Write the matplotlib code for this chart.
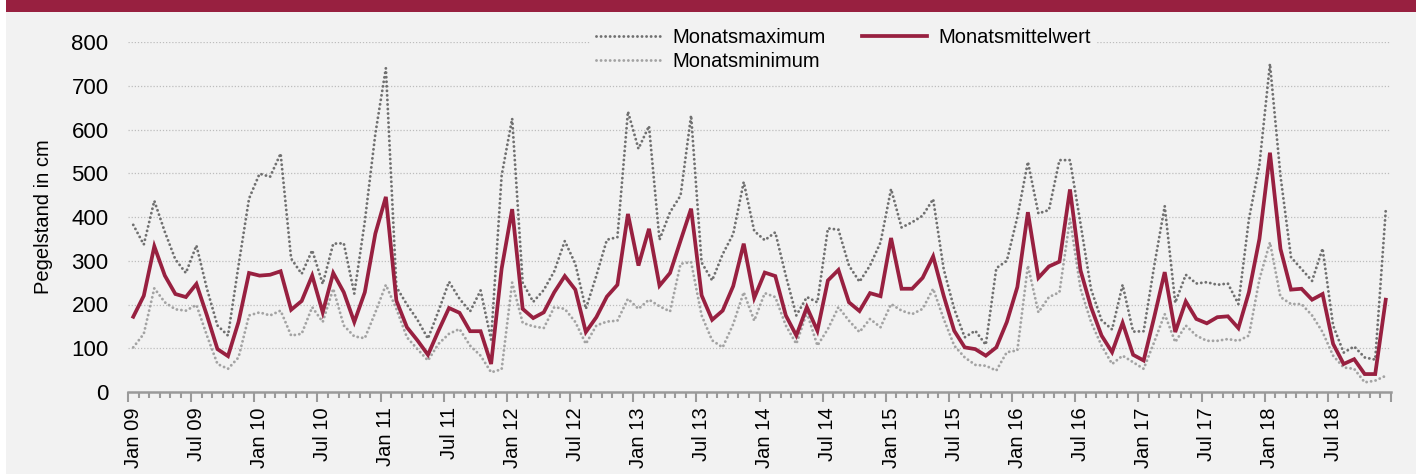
import numpy as np
import matplotlib
matplotlib.use("Agg")
import matplotlib.pyplot as plt
import matplotlib.transforms as mtransforms
from matplotlib.patches import Rectangle

plt.rcParams["font.family"] = ["Liberation Sans", "DejaVu Sans"]

# Monthly values Jan 2009 - Dec 2018 (cm)
monats_max = [382, 337, 437, 366, 303, 272, 335, 236, 152, 129, 289, 442,
              499, 492, 545, 305, 270, 324, 247, 339, 340, 225, 390, 590,
              740, 240, 200, 165, 122, 185, 252, 213, 184, 232, 120, 495,
              625, 250, 206, 233, 276, 345, 293, 190, 266, 348, 354, 641,
              556, 608, 348, 411, 449, 632, 296, 255, 315, 361, 480, 368,
              347, 365, 266, 175, 217, 205, 374, 371, 289, 252, 289, 342,
              464, 376, 388, 403, 441, 281, 190, 125, 140, 108, 283, 300,
              400, 526, 408, 416, 530, 530, 385, 235, 164, 143, 245, 138,
              139, 288, 425, 204, 268, 248, 251, 245, 248, 201, 395, 520,
              750, 494, 308, 281, 254, 328, 152, 90, 104, 79, 74, 415]

monats_min = [102, 133, 237, 205, 189, 186, 199, 129, 64, 53, 79, 175,
              182, 175, 186, 129, 133, 194, 160, 236, 152, 127, 123, 182,
              245, 190, 125, 98, 72, 110, 133, 144, 106, 83, 45, 52,
              250, 158, 150, 146, 194, 190, 160, 110, 152, 161, 163, 213,
              190, 211, 196, 184, 293, 297, 175, 118, 102, 155, 228, 163,
              226, 217, 152, 110, 182, 106, 144, 194, 163, 137, 167, 148,
              201, 186, 178, 190, 236, 167, 106, 79, 62, 60, 49, 91,
              95, 289, 182, 217, 228, 396, 236, 160, 106, 64, 83, 68,
              53, 114, 178, 114, 152, 129, 117, 117, 121, 117, 129, 258,
              342, 217, 201, 201, 175, 137, 83, 56, 53, 22, 26, 37]

monats_mittel = [172, 220, 333, 266, 224, 217, 247, 175, 98, 82, 160, 272,
                 266, 268, 276, 188, 208, 266, 182, 272, 228, 160, 228, 362,
                 446, 209, 148, 118, 85, 140, 192, 181, 139, 139, 64, 282,
                 418, 190, 169, 182, 228, 265, 234, 137, 171, 218, 245, 407,
                 289, 373, 243, 272, 346, 419, 221, 165, 186, 242, 339, 215,
                 273, 265, 175, 129, 194, 140, 255, 279, 205, 185, 226, 219,
                 352, 236, 236, 261, 310, 220, 140, 102, 98, 83, 102, 160,
                 240, 411, 261, 287, 298, 463, 278, 194, 129, 91, 158, 85,
                 72, 171, 274, 137, 207, 167, 157, 171, 173, 146, 228, 350,
                 547, 327, 234, 236, 211, 224, 110, 64, 75, 41, 41, 211]

tick_labels = ["Jan 09", "Jul 09", "Jan 10", "Jul 10", "Jan 11", "Jul 11",
               "Jan 12", "Jul 12", "Jan 13", "Jul 13", "Jan 14", "Jul 14",
               "Jan 15", "Jul 15", "Jan 16", "Jul 16", "Jan 17", "Jul 17",
               "Jan 18", "Jul 18"]

RED = "#982040"
BG = "#f2f2f2"
DOTS = (0, (0.01, 1.55))

fig = plt.figure(figsize=(14.16, 4.74), dpi=100)
fig.patch.set_facecolor("white")
# background panel and top band
fig.add_artist(Rectangle((6 / 1416, 0), 1, 1, transform=fig.transFigure,
                         facecolor=BG, edgecolor="none", zorder=-10))
fig.add_artist(Rectangle((6 / 1416, 1 - 12 / 474), 1, 12 / 474,
                         transform=fig.transFigure, facecolor=RED,
                         edgecolor="none", zorder=-9))

ax = fig.add_axes([128 / 1416, 1 - 392 / 474, 1263 / 1416, 350 / 474])
ax.set_facecolor("none")

x = np.arange(len(monats_mittel))
ax.plot(x, monats_max, color="#707070", lw=2.1, linestyle=DOTS,
        dash_capstyle="round", label="Monatsmaximum", zorder=3)
ax.plot(x, monats_min, color="#a3a3a3", lw=2.1, linestyle=DOTS,
        dash_capstyle="round", label="Monatsminimum", zorder=3)
ax.plot(x, monats_mittel, color=RED, lw=2.7, label="Monatsmittelwert",
        zorder=4, solid_joinstyle="miter")

ax.set_xlim(-0.5, len(x) - 0.5)
ax.set_ylim(0, 800)
ax.set_yticks(range(0, 801, 100))
ax.yaxis.grid(True, color="#bdbdbd", linestyle=(0, (1, 1.5)), lw=0.9)
ax.set_axisbelow(True)
ax.tick_params(axis="y", length=0, labelsize=16, pad=14)

# x axis: month boundary ticks, labels shifted to month centre
major_pos = np.arange(-0.5, len(x), 6)
ax.set_xticks(major_pos)
ax.set_xticklabels(tick_labels + [""] * (len(major_pos) - len(tick_labels)),
                   rotation=90, fontsize=14.5)
ax.set_xticks(np.arange(-0.5, len(x), 1), minor=True)
ax.tick_params(axis="x", which="major", length=7, width=1.5, color="#9a9a9a", pad=4)
ax.tick_params(axis="x", which="minor", length=4, width=1.5, color="#9a9a9a")
offset = mtransforms.ScaledTranslation(0.0526, 0, fig.dpi_scale_trans)
for lbl in ax.get_xticklabels():
    lbl.set_transform(lbl.get_transform() + offset)

for s in ["top", "right", "left"]:
    ax.spines[s].set_visible(False)
ax.spines["bottom"].set_color("#9a9a9a")
ax.spines["bottom"].set_linewidth(1.8)

ax.set_ylabel("Pegelstand in cm", fontsize=14.5)
ax.yaxis.set_label_coords(-0.059, 0.5)

leg = ax.legend(ncol=2, loc="upper left", bbox_to_anchor=(580 / 1416, 1 - 12 / 474),
                bbox_transform=fig.transFigure, frameon=True, fontsize=14.5,
                handlelength=3.2, columnspacing=1.8, handletextpad=0.6,
                labelspacing=0.25, borderpad=0.3)
leg.get_frame().set_facecolor(BG)
leg.get_frame().set_edgecolor("none")
leg.get_frame().set_alpha(1)

fig.savefig("out.png", dpi=100, facecolor=fig.get_facecolor())
